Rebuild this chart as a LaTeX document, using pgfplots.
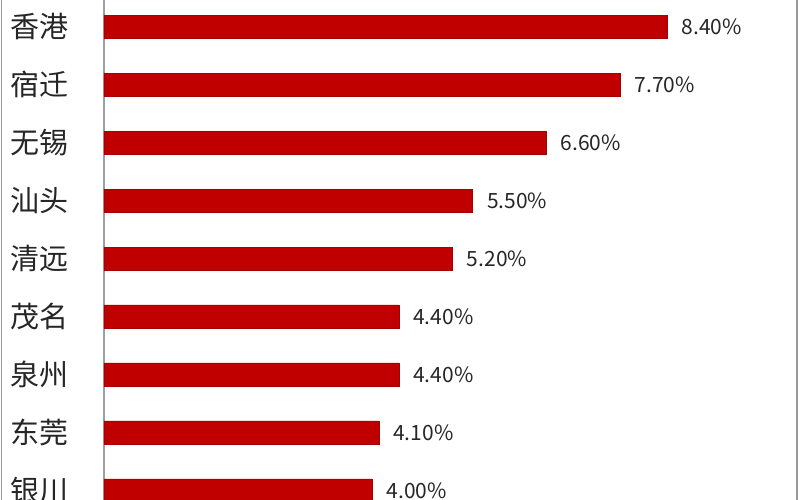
\documentclass[border=0pt]{standalone}
\usepackage{fontspec}
\setmainfont{Noto Sans CJK SC}
\usepackage{pgfplots}
\pgfplotsset{compat=1.18}
\definecolor{barred}{HTML}{C00000}
\definecolor{baredge}{HTML}{A80000}
\begin{document}
\begin{tikzpicture}
\begin{axis}[
  name=ax,
  scale only axis,
  width=696pt, height=500pt,
  xbar, bar width=23pt,
  xmin=0, xmax=10.38,
  ymin=-0.457, ymax=8.164,
  y dir=reverse,
  axis x line=none,
  axis y line*=left,
  y axis line style={draw=gray!75, line width=1.2pt},
  xtick=\empty,
  ytick={0,1,2,3,4,5,6,7,8},
  yticklabels={香港,宿迁,无锡,汕头,清远,茂名,泉州,东莞,银川},
  ytick style={draw=none},
  yticklabel style={font=\fontsize{29}{30}\selectfont, inner sep=0pt, xshift=-31pt, text=black!85},
  /pgf/number format/assume math mode=true,
  nodes near coords={\pgfmathprintnumber[fixed,fixed zerofill,precision=2,assume math mode=true]{\pgfplotspointmeta}\%},
  point meta=x,
  nodes near coords style={anchor=west, inner sep=0pt, xshift=14pt, font=\fontsize{21}{22}\selectfont, text=black!85},
  clip=true,
]
\addplot[fill=barred, draw=baredge, line width=0.6pt] coordinates {
(8.4,0) (7.7,1) (6.6,2) (5.5,3) (5.2,4) (4.4,5) (4.4,6) (4.1,7) (4.0,8)
};
\end{axis}
\draw[gray!80, line width=1.5pt] ([xshift=-102.5pt]ax.south west) -- ([xshift=-102.5pt]ax.north west);
\draw[gray!80, line width=1.5pt] ([xshift=-3pt]ax.south east) -- ([xshift=-3pt]ax.north east);
\pgfresetboundingbox
\path[use as bounding box] ([xshift=-104pt]ax.south west) rectangle (ax.north east);
\end{tikzpicture}
\end{document}
